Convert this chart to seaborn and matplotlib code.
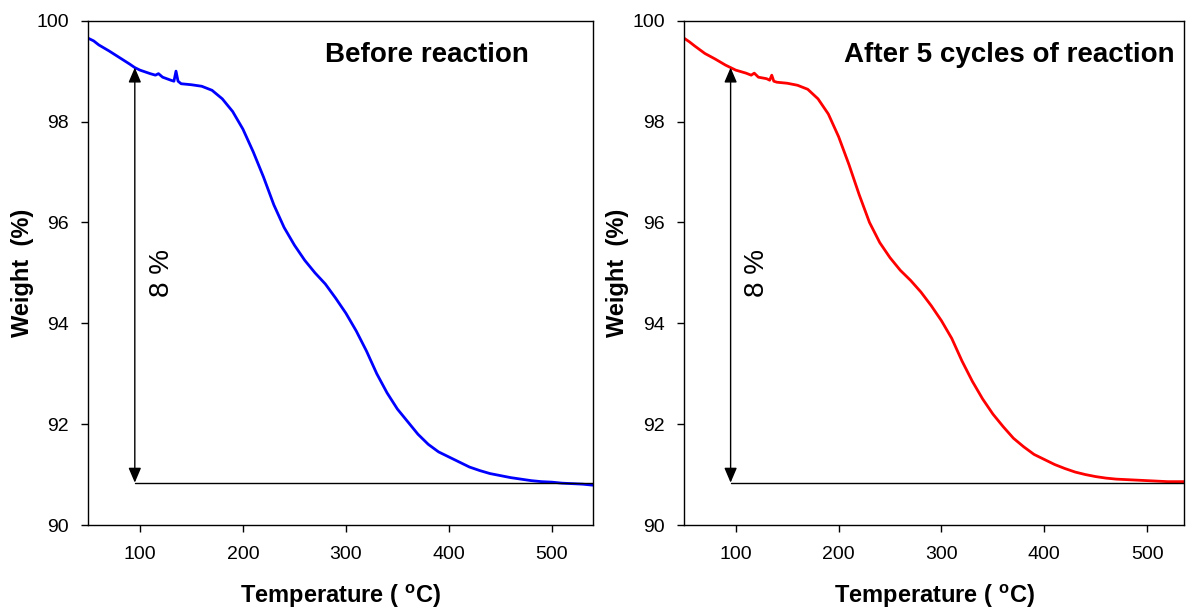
import numpy as np
import pandas as pd
import matplotlib
matplotlib.use("Agg")
import matplotlib.pyplot as plt
import seaborn as sns

sns.set_theme(style="white")
plt.rcParams['font.family'] = ['Liberation Sans', 'DejaVu Sans']
plt.rcParams['axes.unicode_minus'] = False
plt.rcParams['text.color'] = 'black'
plt.rcParams['axes.labelcolor'] = 'black'

# TGA data: temperature (C) and weight (%)
temp_before = [50, 55, 60, 70, 80, 90, 95, 100, 110, 115, 118, 122, 130, 133, 135, 137, 140,
               150, 160, 170, 180, 190, 200, 210, 220, 230, 240, 250, 260, 270, 280, 290,
               300, 310, 320, 330, 340, 350, 360, 370, 380, 390, 400, 410, 420, 430, 440,
               450, 460, 470, 480, 490, 500, 510, 520, 530, 540]
weight_before = [99.65, 99.60, 99.52, 99.40, 99.27, 99.14, 99.07, 99.02, 98.95, 98.92, 98.95,
                 98.88, 98.82, 98.80, 99.00, 98.80, 98.75, 98.73, 98.70, 98.62, 98.45, 98.20,
                 97.85, 97.40, 96.90, 96.35, 95.90, 95.55, 95.25, 95.00, 94.78, 94.50, 94.20,
                 93.85, 93.45, 93.00, 92.62, 92.30, 92.05, 91.80, 91.60, 91.45, 91.35, 91.25,
                 91.15, 91.08, 91.02, 90.98, 90.94, 90.91, 90.88, 90.86, 90.85, 90.83, 90.82,
                 90.81, 90.79]

temp_after = [50, 55, 60, 70, 80, 90, 95, 100, 110, 115, 118, 122, 130, 133, 135, 137, 140,
              150, 160, 170, 180, 190, 200, 210, 220, 230, 240, 250, 260, 270, 280, 290,
              300, 310, 320, 330, 340, 350, 360, 370, 380, 390, 400, 410, 420, 430, 440,
              450, 460, 470, 480, 490, 500, 510, 520, 530, 536]
weight_after = [99.65, 99.58, 99.50, 99.35, 99.24, 99.12, 99.07, 99.02, 98.96, 98.92, 98.96,
                98.88, 98.85, 98.82, 98.92, 98.80, 98.78, 98.76, 98.72, 98.64, 98.45, 98.15,
                97.70, 97.15, 96.55, 96.00, 95.60, 95.30, 95.05, 94.85, 94.62, 94.35, 94.05,
                93.70, 93.25, 92.85, 92.50, 92.20, 91.95, 91.72, 91.55, 91.40, 91.30, 91.20,
                91.12, 91.05, 91.00, 90.96, 90.93, 90.91, 90.90, 90.89, 90.88, 90.87, 90.86,
                90.86, 90.86]

panels = [
    ("Before reaction", temp_before, weight_before, "#0000ff", 540, 0.873),
    ("After 5 cycles of reaction", temp_after, weight_after, "#ff0000", 536, 0.981),
]

loss_temp = 95        # where the vertical arrow sits
loss_top = 99.07
loss_bottom = 90.84

fig = plt.figure(figsize=(11.86, 6.16), dpi=100)
axes = [fig.add_axes([0.0746, 0.1477, 0.4254, 0.8187]),
        fig.add_axes([0.5770, 0.1477, 0.4215, 0.8187])]

for ax, (title, t, w, color, xmax, title_x) in zip(axes, panels):
    df = pd.DataFrame({"T": t, "W": w})
    sns.lineplot(data=df, x="T", y="W", color=color, lw=2.0, sort=False, ax=ax)
    ax.set_xlim(50, xmax)
    ax.set_ylim(90, 100)
    ax.set_xticks([100, 200, 300, 400, 500])
    ax.set_yticks([90, 92, 94, 96, 98, 100])
    for s in ax.spines.values():
        s.set_color("black")
        s.set_linewidth(1.0)
    ax.tick_params(axis="both", direction="out", length=5, width=1, color="black",
                   labelsize=14, labelcolor="black", bottom=True, left=True)
    ax.tick_params(axis="x", pad=10)
    ax.tick_params(axis="y", pad=9)
    ax.set_xlabel("Temperature ( $^{\\mathregular{o}}$C)", fontsize=17, fontweight="bold", labelpad=14)
    ax.set_ylabel("Weight  (%)", fontsize=17, fontweight="bold", labelpad=2)
    ax.text(title_x, 0.918, title, transform=ax.transAxes, ha="right", va="baseline",
            fontsize=20, fontweight="bold")

    # weight loss arrow and baseline
    ax.annotate("", xy=(loss_temp, loss_top), xytext=(loss_temp, loss_bottom),
                arrowprops=dict(arrowstyle="<|-|>,head_length=0.75,head_width=0.32",
                                color="black", lw=1.0, shrinkA=0, shrinkB=0))
    ax.plot([loss_temp, xmax], [loss_bottom, loss_bottom], color="black", lw=1.0)
    ax.text(121, 95.0, "8 %", rotation=90, ha="center", va="center", fontsize=20)

fig.savefig("out.png", dpi=100)
